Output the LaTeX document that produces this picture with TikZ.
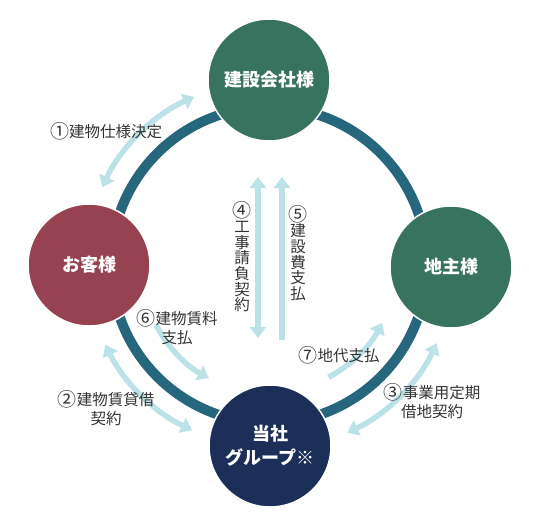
\documentclass[tikz,border=0pt]{standalone}
\usepackage{fontspec}
\setmainfont{Noto Sans CJK JP}
\usetikzlibrary{arrows.meta}
\definecolor{ringc}{HTML}{27677E}
\definecolor{greenc}{HTML}{37735F}
\definecolor{maroonc}{HTML}{964251}
\definecolor{navyc}{HTML}{1B2F58}
\definecolor{lightc}{HTML}{BBE2E6}
\definecolor{textc}{HTML}{333333}
\newcommand{\circnum}[1]{\raisebox{-1.2pt}{\fontsize{19}{19}\selectfont #1}}
\tikzset{
  party/.style={circle, minimum size=122pt, inner sep=0pt, draw=white, line width=1.5pt,
    text=white, font=\fontsize{18}{24}\selectfont\bfseries, align=center},
  flow/.style={draw=lightc, line width=5.5pt},
  tip/.tip={Triangle[width=16pt,length=11pt]},
  lbl/.style={text=textc, font=\fontsize{15.5}{19}\selectfont, align=center, inner sep=0pt},
  vlbl/.style={text=textc, font=\fontsize{15.5}{15.7}\selectfont, align=center, inner sep=0pt}
}
\begin{document}
\begin{tikzpicture}[x=1pt,y=-1pt]
\useasboundingbox (0,0) rectangle (540,528);
\coordinate (O) at (269,265);
\draw[ringc, line width=10pt] (O) circle (158);
% light arrows
\draw[flow, tip-tip] ([shift={(-155:184)}]O) coordinate (a1s) arc[start angle=-155, end angle=-114, radius=184] coordinate (a1e);
\draw[flow, tip-tip] ([shift={(-206:182)}]O) coordinate (a2s) arc[start angle=-206, end angle=-245, radius=182] coordinate (a2e);
\draw[flow, -tip] ([shift={(-208:128)}]O) coordinate (a6s) arc[start angle=-208, end angle=-242, radius=128] coordinate (a6e);
\draw[flow, -tip] ([shift={(-298:127)}]O) coordinate (a7s) arc[start angle=-298, end angle=-333, radius=127] coordinate (a7e);
\draw[flow, tip-tip] ([shift={(-295:185)}]O) coordinate (a3s) arc[start angle=-295, end angle=-335, radius=185] coordinate (a3e);
\coordinate (a4s) at (258,338);
\coordinate (a4e) at (258,177);
\coordinate (a5s) at (282,340);
\coordinate (a5e) at (282,177);
\draw[flow, tip-tip] (a4s) -- (a4e);
\draw[flow, -tip] (a5s) -- (a5e);
% parties
\node[party, fill=greenc] (builder) at (269,80) {建設会社様};
\node[party, fill=maroonc] (customer) at (89,265) {お客様};
\node[party, fill=greenc] (owner) at (451,267) {地主様};
\node[party, fill=navyc] (us) at (270,446) {当社\\グループ※};
% labels
\node[lbl] (l1) at (106,131) {\circnum{①}建物仕様決定};
\node[lbl] (l2) at (106,408) {\circnum{②}建物賃貸借\\契約};
\node[lbl] (l6) at (177,327) {\circnum{⑥}建物賃料\\支払};
\node[lbl] (l7) at (339,355) {\circnum{⑦}地代支払};
\node[lbl] (l3) at (432,401) {\circnum{③}事業用定期\\借地契約};
\node[vlbl] (l4) at (242,257) {\circnum{④}\\工\\事\\請\\負\\契\\約};
\node[vlbl] (l5) at (298,253) {\circnum{⑤}\\建\\設\\費\\支\\払};
\end{tikzpicture}
\end{document}
